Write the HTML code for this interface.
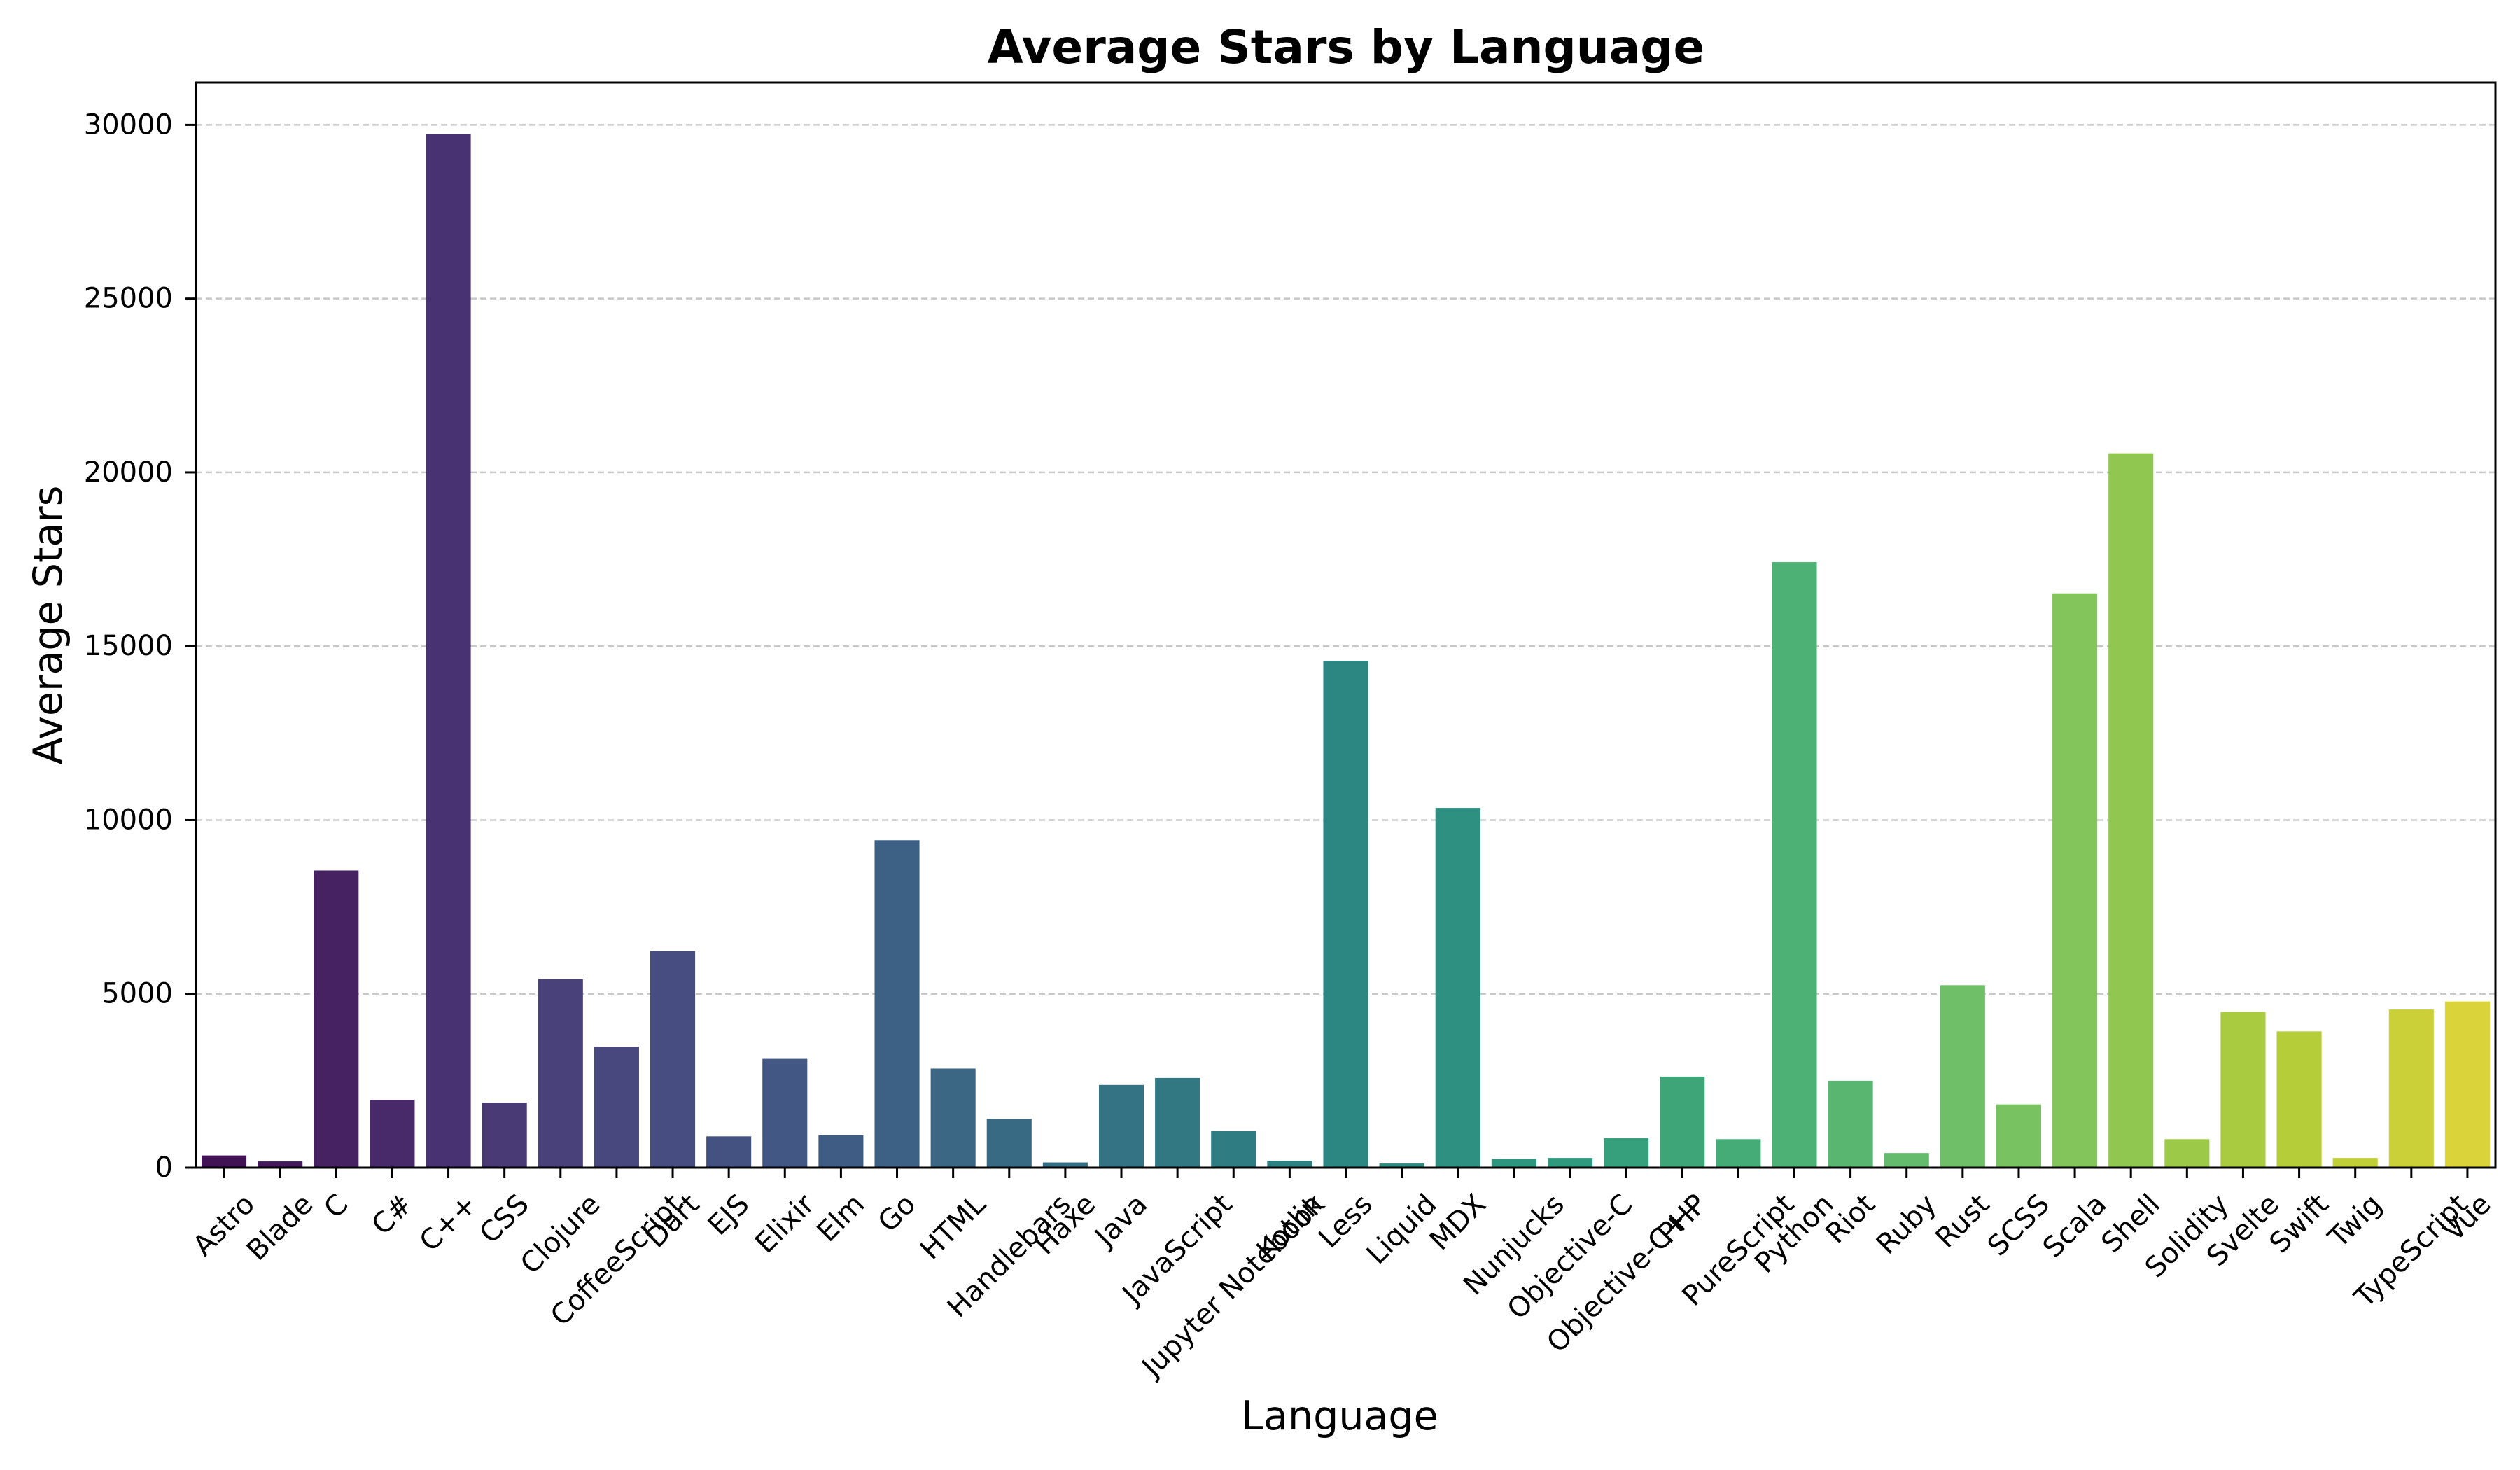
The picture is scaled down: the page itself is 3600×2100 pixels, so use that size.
<!DOCTYPE html>
<html><head><meta charset="utf-8"><style>
html,body{margin:0;padding:0;background:#fff;}
svg{display:block;font-family:"DejaVu Sans","Liberation Sans",sans-serif;}
</style></head><body>
<svg id="chart" width="3600" height="2100" viewBox="0 0 3600 2100" xmlns="http://www.w3.org/2000/svg">
<rect x="0" y="0" width="3600" height="2100" fill="#fff"/>
<g id="grid"></g><g id="bars"></g><g id="axes"></g>
<text x="1923" y="90" text-anchor="middle" font-size="66" font-weight="bold">Average Stars by Language</text>
<text x="1914" y="2042" text-anchor="middle" font-size="57">Language</text>
<text x="0" y="0" transform="translate(88,893) rotate(-90)" text-anchor="middle" font-size="57">Average Stars</text>
</svg>
<script>
const categories=["Astro","Blade","C","C#","C++","CSS","Clojure","CoffeeScript","Dart","EJS","Elixir","Elm","Go","HTML","Handlebars","Haxe","Java","JavaScript","Jupyter Notebook","Kotlin","Less","Liquid","MDX","Nunjucks","Objective-C","Objective-C++","PHP","PureScript","Python","Riot","Ruby","Rust","SCSS","Scala","Shell","Solidity","Svelte","Swift","Twig","TypeScript","Vue"];
const values=[350,180,8550,1950,29730,1870,5420,3480,6230,900,3130,930,9420,2850,1400,150,2380,2580,1050,200,14580,120,10350,250,280,850,2620,820,17420,2500,420,5250,1820,16520,20550,820,4480,3920,280,4550,4780];
const yTicks=[0,5000,10000,15000,20000,25000,30000];
const yTickLabels=["0","5000","10000","15000","20000","25000","30000"];

const NS="http://www.w3.org/2000/svg";
const L=280,R=3565,T=118,B=1668;
const yMax=Math.max(...values)*1.05;
const n=categories.length;
const xs=i=>L+(i+0.5)/n*(R-L);
const ys=v=>B-v/yMax*(B-T);
const bw=0.8*(R-L)/n;
function mk(tag,attrs,parent){const e=document.createElementNS(NS,tag);for(const k in attrs)e.setAttribute(k,attrs[k]);parent.appendChild(e);return e;}
const stops=["#440154","#482475","#414487","#355f8d","#2a788e","#21918c","#22a884","#44bf70","#7ad151","#bddf26","#fde725"];
function hex(h){return [1,3,5].map(i=>parseInt(h.substr(i,2),16)/255);}
function viridis(t){const p=t*10,i=Math.min(9,Math.floor(p)),f=p-i;const a=hex(stops[i]),b=hex(stops[i+1]);return a.map((v,k)=>v+(b[k]-v)*f);}
function desat(c,s){const mx=Math.max(...c),mn=Math.min(...c),l=(mx+mn)/2;return c.map(v=>l+(v-l)*s);}
function css(c){return "rgb("+c.map(v=>Math.round(Math.max(0,Math.min(1,v))*255)).join(",")+")";}
const grid=document.getElementById('grid'),bars=document.getElementById('bars'),axes=document.getElementById('axes');
yTicks.forEach((v,i)=>{
  const y=ys(v);
  const g=mk('line',{x1:L,x2:R,y1:y,y2:y,stroke:"#c8c8c8","stroke-width":2.5,"stroke-dasharray":"9,5"},grid);
  
  
  const t=mk('line',{x1:L-15,x2:L,y1:y,y2:y,stroke:"#000","stroke-width":3},axes);
  
  
  const tx=mk('text',{x:L-33,y:y,"text-anchor":"end","dominant-baseline":"central","font-size":40},axes);
  tx.textContent=yTickLabels[i];
  
  
});
categories.forEach((c,i)=>{
  const col=css(desat(viridis((i+1)/(n+1)),0.8));
  const y=ys(values[i]);
  const r=mk('rect',{x:xs(i)-bw/2,y:y,width:bw,height:B-y,fill:col},bars);
  
  
  const t=mk('line',{x1:xs(i),x2:xs(i),y1:B,y2:B+15,stroke:"#000","stroke-width":3},axes);
  
  
  const tx=mk('text',{x:0,y:0,"text-anchor":"middle","dominant-baseline":"central","font-size":40},axes);
  tx.textContent=c;
  
  
  const w=tx.getComputedTextLength(),h=44;
  const cy=B+30+(w+h)*0.7071/2;
  tx.setAttribute('transform','translate('+xs(i)+','+cy+') rotate(-45)');
});
const fr=mk('rect',{x:L,y:T,width:R-L,height:B-T,fill:"none",stroke:"#000","stroke-width":3},axes);


</script>
</body></html>
